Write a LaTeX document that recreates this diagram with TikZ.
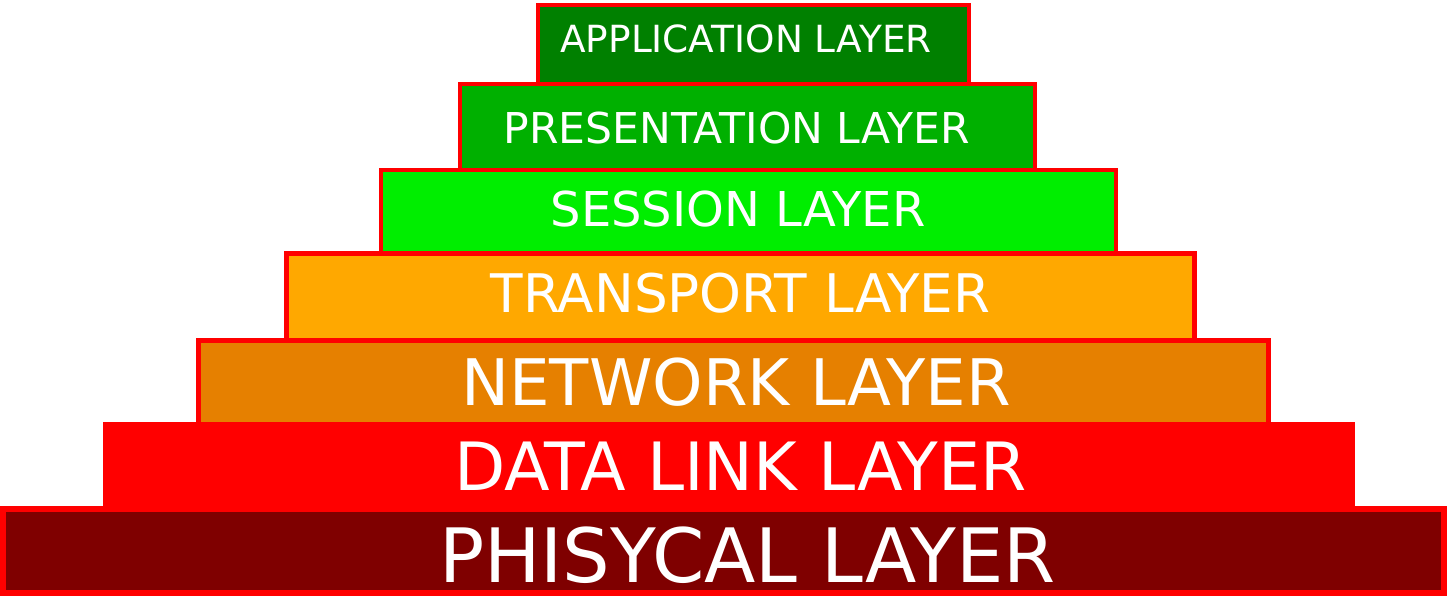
\documentclass[tikz,border=0pt]{standalone}
\usepackage{fontspec}
\setmainfont{DejaVu Sans}
\definecolor{appgreen}{HTML}{008000}
\definecolor{presgreen}{HTML}{00B000}
\definecolor{sessgreen}{HTML}{00EE00}
\definecolor{transorange}{HTML}{FFA800}
\definecolor{netorange}{HTML}{E68000}
\definecolor{linkred}{HTML}{FF0000}
\definecolor{physred}{HTML}{7F0000}
\tikzset{
  layerbox/.style={draw=red, line width=4pt},
  layertext/.style={anchor=base, inner sep=0pt, text=white},
}
\newcommand{\fsz}[1]{\fontsize{#1}{#1}\selectfont}
\begin{document}
\begin{tikzpicture}[x=1pt,y=-1pt]
\useasboundingbox (0,0) rectangle (1447,596);
% boxes
\draw[layerbox, fill=appgreen] (538,4.7) rectangle (969,84);
\draw[layerbox, fill=sessgreen, line width=4pt] (380.5,170) rectangle (1115.5,254);
\draw[layerbox, fill=presgreen] (460,84) rectangle (1035,169.7);
\draw[layerbox, fill=transorange, line width=5pt] (286.5,253.5) rectangle (1194.5,340);
\draw[layerbox, fill=netorange, line width=5pt] (198.5,340.5) rectangle (1268.5,424);
\fill[linkred] (103,422) rectangle (1355,507);
\draw[layerbox, fill=physred, line width=6pt] (3,509) rectangle (1444,593);
% texts
\node[layertext] (app) at (746,52.7) {\fsz{37.4}APPLICATION LAYER};
\node[layertext] (pres) at (736.5,143.3) {\fsz{42.5}PRESENTATION LAYER};
\node[layertext] (sess) at (738,226) {\fsz{48}SESSION LAYER};
\node[layertext] (trans) at (740.5,312) {\fsz{53.2}TRANSPORT LAYER};
\node[layertext] (net) at (736,405) {\fsz{64.2}NETWORK LAYER};
\node[layertext] (link) at (740.5,490) {\fsz{66.6}DATA LINK LAYER};
\node[layertext] (phys) at (747.5,582) {\fsz{75}PHISYCAL LAYER};
\end{tikzpicture}
\end{document}
